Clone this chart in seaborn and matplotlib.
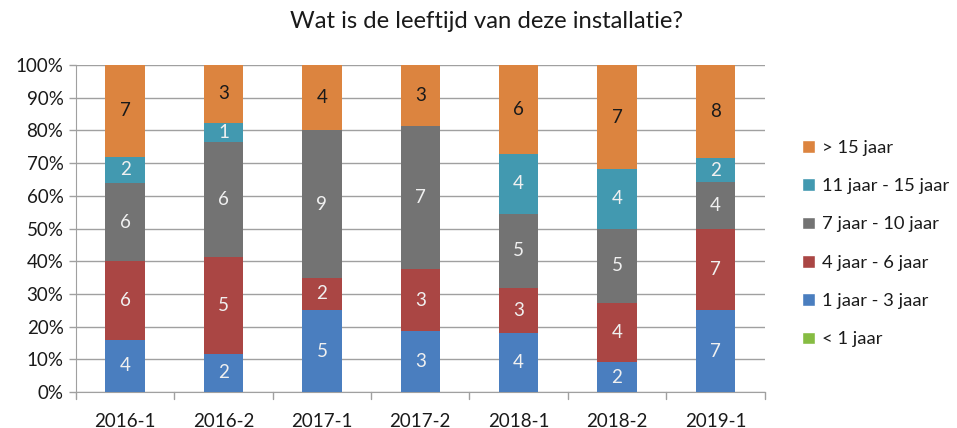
import numpy as np
import pandas as pd
import matplotlib
matplotlib.use("Agg")
import matplotlib.pyplot as plt
import seaborn as sns
from matplotlib.patches import Patch

sns.set_style("white")
plt.rcParams['font.family'] = ['Lato', 'DejaVu Sans']

periods = ["2016-1", "2016-2", "2017-1", "2017-2", "2018-1", "2018-2", "2019-1"]
groups = ["< 1 jaar", "1 jaar - 3 jaar", "4 jaar - 6 jaar", "7 jaar - 10 jaar",
          "11 jaar - 15 jaar", "> 15 jaar"]
lt_1 = [0, 0, 0, 0, 0, 0, 0]
y1_3 = [4, 2, 5, 3, 4, 2, 7]
y4_6 = [6, 5, 2, 3, 3, 4, 7]
y7_10 = [6, 6, 9, 7, 5, 5, 4]
y11_15 = [2, 1, 0, 0, 4, 4, 2]
gt_15 = [7, 3, 4, 3, 6, 7, 8]

colors = ["#86BC42", "#4A7EBF", "#AA4644", "#737373", "#4299B0", "#DC843F"]
label_colors = ["white", "#F0F0F0", "#F0F0F0", "#F0F0F0", "#F0F0F0", "#1A1A1A"]

counts = pd.DataFrame([lt_1, y1_3, y4_6, y7_10, y11_15, gt_15], index=groups, columns=periods)
pct = counts / counts.sum(axis=0) * 100
cum = pct.cumsum(axis=0)

fig = plt.figure(figsize=(9.57, 4.28), dpi=100)
ax = fig.add_axes([0.0794, 0.084, 0.7195, 0.764])

# draw from the top layer down so lower layers cover upper ones
for i in range(len(groups) - 1, -1, -1):
    d = pd.DataFrame({"period": periods, "value": cum.iloc[i].values})
    sns.barplot(data=d, x="period", y="value", color=colors[i], width=0.4,
                saturation=1, linewidth=0, edgecolor="none", ax=ax, zorder=3)

for i, g in enumerate(groups):
    for j, p in enumerate(periods):
        n = counts.loc[g, p]
        if n == 0:
            continue
        ax.text(j, cum.loc[g, p] - pct.loc[g, p] / 2, str(n), ha="center", va="center",
                fontsize=13.5, color=label_colors[i], zorder=4)

ax.set_ylim(0, 100)
ax.set_xlim(-0.5, len(periods) - 0.5)
ax.set_yticks(np.arange(0, 101, 10))
ax.set_yticklabels([f"{v}%" for v in range(0, 101, 10)], fontsize=13.5, color="#1A1A1A")
ax.set_xticks(np.arange(len(periods)))
ax.set_xticklabels(periods, fontsize=13.5, color="#1A1A1A")
ax.tick_params(axis="x", length=0, pad=15)
ax.tick_params(axis="y", length=5, color="#A0A0A0", width=1, left=True, pad=4)
for k in np.arange(-0.5, len(periods), 1.0):
    ax.plot([k, k], [0, -2.2], color="#A0A0A0", lw=1, clip_on=False, zorder=2)
ax.grid(axis="y", color="#A0A0A0", lw=1, zorder=0)
ax.set_axisbelow(True)
ax.set_xlabel("")
ax.set_ylabel("")
for s in ["top", "right"]:
    ax.spines[s].set_visible(False)
ax.spines["left"].set_color("#A0A0A0")
ax.spines["bottom"].set_color("#A0A0A0")

fig.text(0.508, 0.95, "Wat is de leeftijd van deze installatie?", ha="center", va="center",
         fontsize=17.2, color="#1A1A1A")

handles = [Patch(facecolor=colors[i], label=groups[i]) for i in range(len(groups) - 1, -1, -1)]
fig.legend(handles=handles, loc="center left", bbox_to_anchor=(0.821, 0.431), frameon=False,
           fontsize=13.2, handlelength=0.7, handleheight=0.7, handletextpad=0.4,
           labelspacing=1.22, labelcolor="#1A1A1A")

fig.savefig("out.png", dpi=100)
